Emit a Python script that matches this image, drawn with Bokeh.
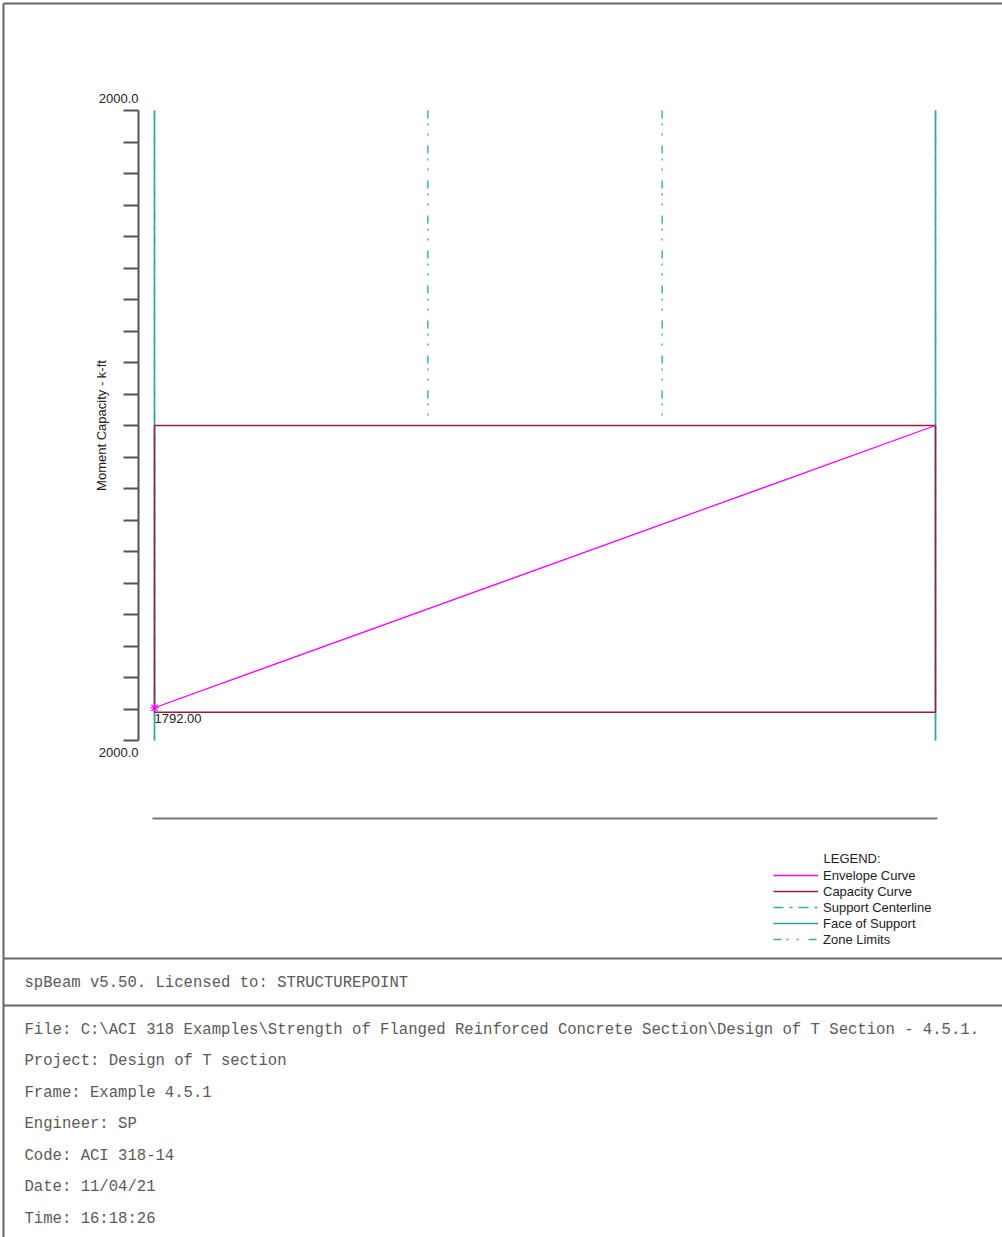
import math
from bokeh.plotting import figure
from bokeh.models import Range1d, FixedTicker, Label, Legend, LegendItem
from bokeh.embed import file_html
from bokeh.resources import INLINE
from bokeh.core.properties import value

# ---------------- data ----------------
span_stations = [0.0, 20.0]          # left / right support (ft)
zone_limits = [7.0, 13.0]            # zone limit stations (ft)
envelope_pos = [1792.0, 0.0]         # envelope (positive moment) at stations
envelope_neg = [0.0, 0.0]            # envelope (negative moment) at stations
capacity_pos = [1820.0, 1820.0]      # positive capacity at stations
capacity_neg = [0.0, 0.0]            # negative capacity at stations
y_ticks = [-2000, -1800, -1600, -1400, -1200, -1000, -800, -600, -400, -200, 0,
           200, 400, 600, 800, 1000, 1200, 1400, 1600, 1800, 2000]
y_end_labels = ["2000.0", "2000.0"]
y_axis_title = "Moment Capacity - k-ft"
legend_title = "LEGEND:"
legend_labels = ["Envelope Curve", "Capacity Curve", "Support Centerline",
                 "Face of Support", "Zone Limits"]
footer_header = "spBeam v5.50. Licensed to: STRUCTUREPOINT"
footer_lines = [
    "File: C:\\ACI 318 Examples\\Strength of Flanged Reinforced Concrete Section\\Design of T Section - 4.5.1.",
    "Project: Design of T section",
    "Frame: Example 4.5.1",
    "Engineer: SP",
    "Code: ACI 318-14",
    "Date: 11/04/21",
    "Time: 16:18:26",
]

# ---------------- layout (page pixels) ----------------
W, H = 1002, 1237
AXIS_PX = 138
X0_PX, XL_PX = 154, 935
YTOP_PX, YBOT_PX = 110, 740

FONT_S = "Liberation Sans"
MONO = value("Liberation Mono")
MAGENTA = "#ff00ff"
CAP = "#9c1c40"
TEAL = "#2f9f9f"
TEAL_L = "#3ea8a8"
AXIS = "#555555"
TXT = "#222222"

L = span_stations[1] - span_stations[0]
sx = (XL_PX - X0_PX) / L
ymin, ymax = y_ticks[0], y_ticks[-1]
ky = (ymax - ymin) / (YBOT_PX - YTOP_PX)


def px2x(px):
    return span_stations[0] + (px - X0_PX) / sx


def px2y(py):
    return ymin + (py - YTOP_PX) * ky


p = figure(width=W, height=H,
           x_range=Range1d(px2x(0), px2x(W)),
           y_range=Range1d(start=px2y(H), end=px2y(0)),
           toolbar_location=None, output_backend="svg", title=None,
           x_axis_location=None, y_axis_location="left", min_border=0)
p.outline_line_color = None
p.grid.visible = False
p.background_fill_color = "white"
p.border_fill_color = "white"

ax = p.yaxis[0]
ax.fixed_location = px2x(AXIS_PX)
ax.ticker = FixedTicker(ticks=y_ticks)
ax.bounds = (ymin, ymax)
ax.major_label_overrides = {t: "" for t in y_ticks}
ax.major_label_text_font_size = "1px"
ax.major_label_standoff = 0
ax.axis_line_color = AXIS
ax.axis_line_width = 2
ax.major_tick_line_color = AXIS
ax.major_tick_line_width = 2
ax.major_tick_out = 15
ax.major_tick_in = 0
ax.minor_tick_line_color = None


def lab(**kw):
    base = dict(text_font=FONT_S, text_font_size="13px", text_color=TXT)
    base.update(kw)
    return Label(**base)


# page frame and separators
p.segment(x0=[px2x(3), px2x(3), px2x(3), px2x(3)],
          y0=[px2y(3), px2y(3), px2y(958), px2y(1005)],
          x1=[px2x(W), px2x(3), px2x(W), px2x(W)],
          y1=[px2y(3), px2y(H), px2y(958), px2y(1005)],
          line_color="#666666", line_width=2)

# end labels of y axis
p.add_layout(lab(x=px2x(AXIS_PX), y=ymin, text=y_end_labels[0],
                 y_offset=12, text_align="right", text_baseline="middle"))
p.add_layout(lab(x=px2x(AXIS_PX), y=ymax, text=y_end_labels[1],
                 y_offset=-12, text_align="right", text_baseline="middle"))
# axis title
p.add_layout(lab(x=px2x(101), y=0, text=y_axis_title,
                 angle=math.pi / 2, text_align="center", text_baseline="middle"))

# support lines
face_r = p.segment(x0=span_stations, y0=[ymin] * 2, x1=span_stations, y1=[ymax] * 2,
                   line_color=TEAL, line_width=1.6)
cl_r = p.segment(x0=span_stations, y0=[ymin] * 2, x1=span_stations, y1=[ymax] * 2,
                 line_color=TEAL_L, line_width=1.4, line_dash="10 6 3 6")
zone_r = p.segment(x0=zone_limits, y0=[ymin] * 2, x1=zone_limits, y1=[0] * 2,
                   line_color=TEAL_L, line_width=1.4, line_dash="8 5 2 8 2 10")

# envelope negative part (zero line)
p.line(x=span_stations, y=envelope_neg, line_color=MAGENTA, line_width=1.2)

# capacity curve (closed)
cap_x = [span_stations[0], span_stations[0], span_stations[1], span_stations[1], span_stations[0]]
cap_y = [capacity_neg[0], capacity_pos[0], capacity_pos[1], capacity_neg[1], capacity_neg[0]]
cap_r = p.line(x=cap_x, y=cap_y, line_color=CAP, line_width=1.5)

# envelope positive part
env_r = p.line(x=span_stations, y=envelope_pos, line_color=MAGENTA, line_width=1.3)
p.scatter(x=[span_stations[0]], y=[envelope_pos[0]], marker="asterisk", size=9,
          line_color=MAGENTA, line_width=1.2)
p.add_layout(lab(x=span_stations[0], y=envelope_pos[0], text=f"{envelope_pos[0]:.2f}",
                 y_offset=-6, text_align="left", text_baseline="top"))

# beam line
p.line(x=[px2x(152), px2x(937)], y=[px2y(818)] * 2, line_color="#777777", line_width=2)

# legend
legend = Legend(items=[
    LegendItem(label=legend_labels[0], renderers=[env_r]),
    LegendItem(label=legend_labels[1], renderers=[cap_r]),
    LegendItem(label=legend_labels[2], renderers=[cl_r]),
    LegendItem(label=legend_labels[3], renderers=[face_r]),
    LegendItem(label=legend_labels[4], renderers=[zone_r]),
], location=(773, H - 947), orientation="vertical")
legend.padding = 0
legend.margin = 0
legend.spacing = 0
legend.glyph_width = 45
legend.glyph_height = 16
legend.label_height = 16
legend.label_standoff = 5
legend.border_line_color = None
legend.background_fill_alpha = 0
legend.label_text_font = FONT_S
legend.label_text_font_size = "13px"
legend.label_text_color = TXT
p.add_layout(legend)
p.add_layout(lab(x=px2x(823), y=px2y(858), text=legend_title, text_align="left",
                 text_baseline="middle"))

# footer texts
texts = [footer_header] + footer_lines
ys_px = [982, 1029, 1060, 1092, 1123, 1155, 1186, 1218]
p.text(x=[px2x(24)] * len(texts), y=[px2y(v) for v in ys_px], text=texts,
       text_font=MONO, text_font_size="15.6px",
       text_baseline="middle", text_align="left", text_color="#5a5a5a")

open("out.html", "w").write(file_html(p, INLINE))
